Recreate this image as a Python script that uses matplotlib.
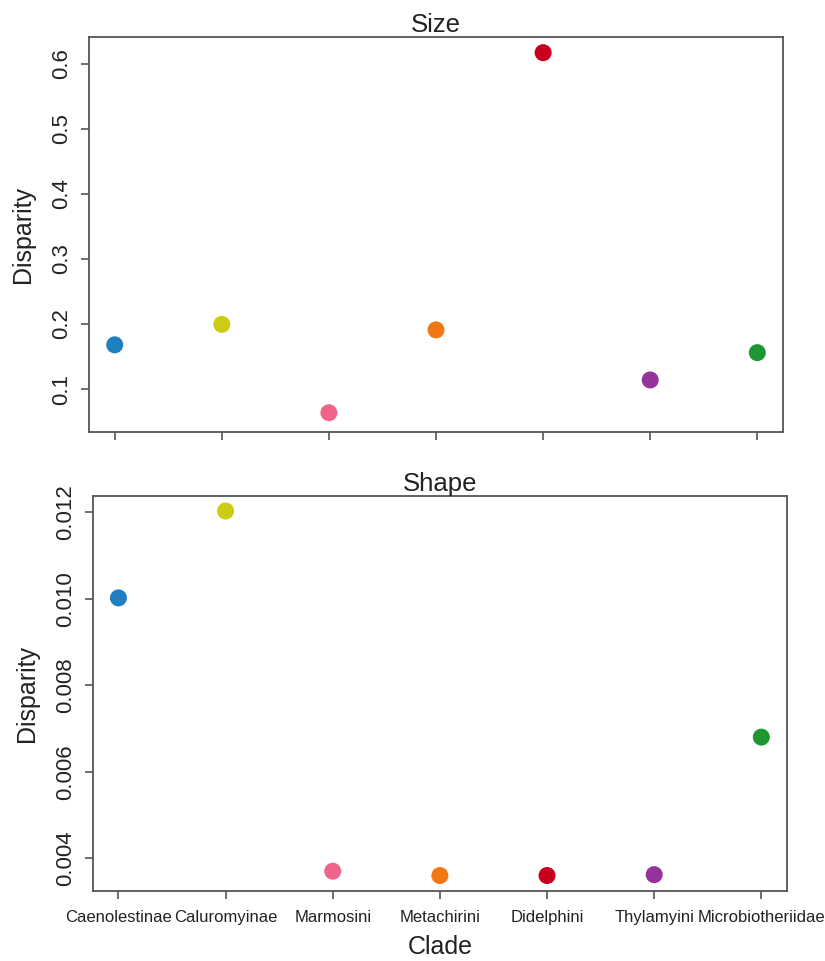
import numpy as np
import matplotlib
matplotlib.use("Agg")
import matplotlib.pyplot as plt

plt.rcParams['font.family'] = ['Liberation Sans', 'DejaVu Sans']

clades = ['Caenolestinae', 'Caluromyinae', 'Marmosini', 'Metachirini',
          'Didelphini', 'Thylamyini', 'Microbiotheriidae']
colors = ['#1f7fc0', '#cccc14', '#f0648c', '#f07814', '#c8001e', '#96329b', '#1e9632']

size_disp = [0.168, 0.1995, 0.0636, 0.191, 0.6174, 0.114, 0.156]
shape_disp = [0.01002, 0.01203, 0.00370, 0.00360, 0.00360, 0.00362, 0.00680]

size_ticks = [0.1, 0.2, 0.3, 0.4, 0.5, 0.6]
shape_ticks = [0.004, 0.006, 0.008, 0.010, 0.012]

fig = plt.figure(figsize=(8.25, 9.61), dpi=100)
ax1 = fig.add_axes([0.1079, 0.5505, 0.8412, 0.4110])
ax2 = fig.add_axes([0.1124, 0.0732, 0.8416, 0.4107])

x = np.arange(1, len(clades) + 1)
edge = '#555555'


def style(ax, title, yticks, fmt, ylim):
    for s in ax.spines.values():
        s.set_color(edge)
        s.set_linewidth(1.3)
    ax.set_xlim(0.76, 7.24)
    ax.set_ylim(*ylim)
    ax.set_xticks(x)
    ax.set_yticks(yticks)
    ax.set_yticklabels([fmt.format(v) for v in yticks], rotation=90,
                       va='center', fontsize=16, color='#222222')
    ax.tick_params(axis='both', direction='out', length=6, width=1.2,
                   color=edge, pad=6)
    ax.tick_params(axis='x', pad=8)
    ax.set_title(title, fontsize=18.5, color='#222222', pad=3.5)
    ax.set_ylabel('Disparity', fontsize=18, color='#222222')
    ax.yaxis.set_label_coords(-0.078, 0.5)


ax1.scatter(x, size_disp, c=colors, s=150, zorder=3, linewidths=0)
style(ax1, 'Size', size_ticks, '{:.1f}', (0.034, 0.6415))
ax1.set_xticklabels([])

ax2.scatter(x, shape_disp, c=colors, s=150, zorder=3, linewidths=0)
style(ax2, 'Shape', shape_ticks, '{:.3f}', (0.00325, 0.012377))
ax2.set_xticklabels(clades, fontsize=12, color='#222222')
ax2.set_xlabel('Clade', fontsize=18, color='#222222', labelpad=7)

fig.savefig('out.png', dpi=100)
